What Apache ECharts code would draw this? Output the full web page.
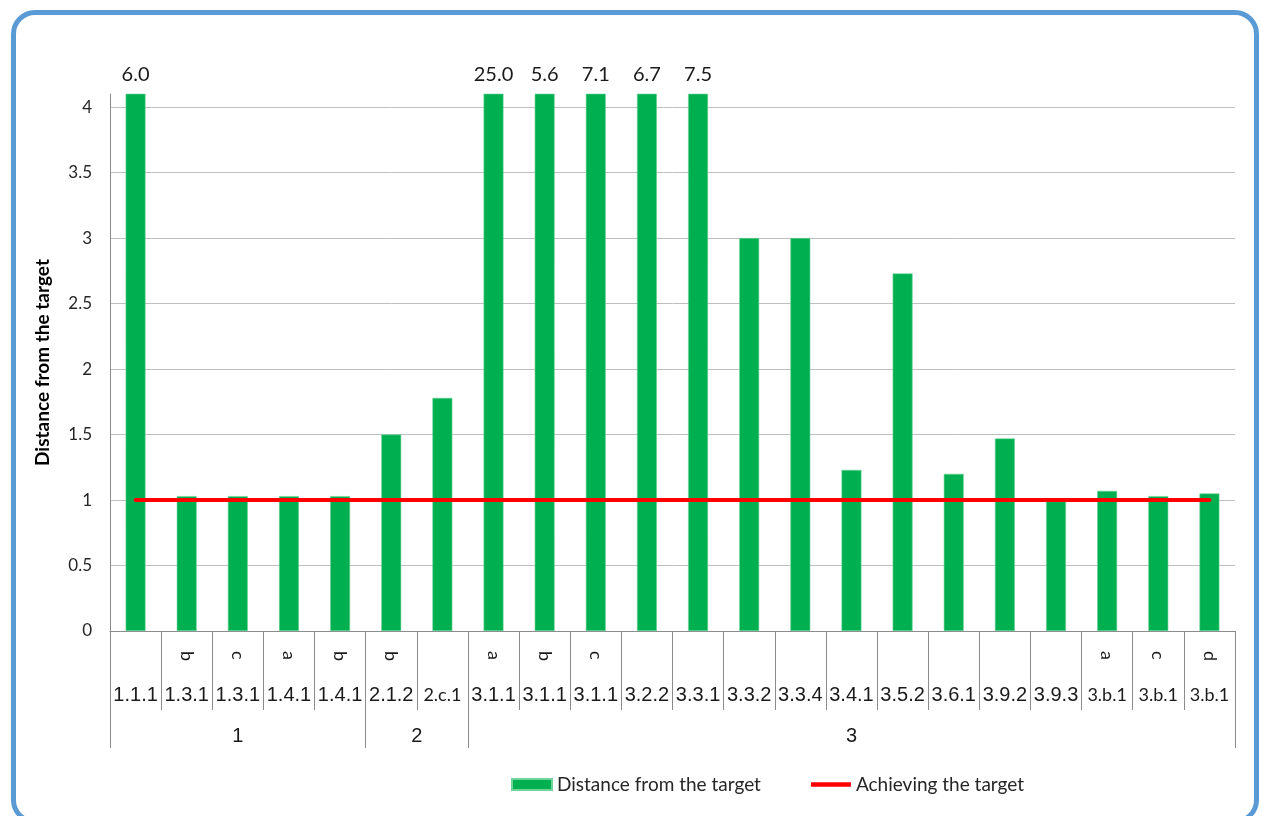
<!DOCTYPE html>
<html>
<head>
<meta charset="utf-8">
<title>Distance from the target</title>
<script src="https://cdn.jsdelivr.net/npm/echarts@6.0.0/dist/echarts.min.js"></script>
<style>
  html, body { margin: 0; padding: 0; width: 1262px; height: 816px; overflow: hidden; background: #fff; }
  #frame {
    position: absolute; left: 11px; top: 10px; width: 1248px; height: 814px;
    box-sizing: border-box; border: 5px solid #5B9BD5; border-radius: 24px;
  }
  #chart { position: absolute; left: 0; top: 0; width: 1262px; height: 816px; }
</style>
</head>
<body>
<div id="frame"></div>
<div id="chart"></div>
<script>
// Indicator codes (bottom row), sub-letters (upper row) and goal groups
const codes = ['1.1.1','1.3.1','1.3.1','1.4.1','1.4.1','2.1.2','2.c.1','3.1.1','3.1.1','3.1.1','3.2.2',
               '3.3.1','3.3.2','3.3.4','3.4.1','3.5.2','3.6.1','3.9.2','3.9.3','3.b.1','3.b.1','3.b.1'];
const letters = ['','b','c','a','b','b','','a','b','c','','','','','','','','','','a','c','d'];
const groupNames = ['1', '2', '3'];
const groupStarts = [0, 5, 7];
const groupEnds = [5, 7, 22];

// Distance from the target per indicator
const distance = [6.0, 1.03, 1.03, 1.03, 1.03, 1.5, 1.78, 25.0, 5.6, 7.1, 6.7,
                  7.5, 3.0, 3.0, 1.23, 2.73, 1.2, 1.47, 0.99, 1.07, 1.03, 1.05];
// Target level (1 = target achieved)
const target = [1, 1, 1, 1, 1, 1, 1, 1, 1, 1, 1, 1, 1, 1, 1, 1, 1, 1, 1, 1, 1, 1];

// Value axis
const yMin = 0;
const yMax = 4.1;
const yStep = 0.5;

const categoryKeys = codes.map((c, i) => c + letters[i]);
const groupBounds = [0].concat(groupEnds);
const groupCenters = groupStarts.map((s, i) => (s + groupEnds[i]) / 2);

const calibriLike = 'Lato, "Open Sans", sans-serif';
const arialLike = '"Liberation Sans", Arial, sans-serif';
const gridColor = '#BFBFBF';
const axisColor = '#8C8C8C';

const chart = echarts.init(document.getElementById('chart'), null, { renderer: 'canvas' });

chart.setOption({
  animation: false,
  grid: { left: 110, right: 27, top: 94, bottom: 185, containLabel: false },
  legend: {
    top: 770,
    left: 506,
    itemWidth: 40,
    itemHeight: 11,
    itemGap: 50,
    textStyle: { fontFamily: calibriLike, fontSize: 19, color: '#262626' },
    data: [
      { name: 'Distance from the target', icon: 'rect', itemStyle: { color: '#00B050' } },
      { name: 'Achieving the target', icon: 'path://M0,0 H40 V4.5 H0 Z', itemStyle: { color: '#FF0000' } }
    ]
  },
  xAxis: [
    {
      // main category axis: indicator codes and cell dividers
      type: 'category',
      data: categoryKeys,
      position: 'bottom',
      offset: 0,
      boundaryGap: true,
      axisLine: { show: true, lineStyle: { color: axisColor, width: 1 } },
      axisTick: { show: true, interval: 0, length: 79, lineStyle: { color: axisColor, width: 1 } },
      axisLabel: {
        interval: 0,
        hideOverlap: false,
        margin: 64,
        verticalAlign: 'middle',
        fontFamily: arialLike,
        fontSize: 20,
        color: '#1a1a1a',
        formatter: function (v, i) {
          const c = codes[i];
          return /[a-z]/.test(c) ? '{s|' + c + '}' : c;
        },
        rich: { s: { fontFamily: calibriLike, fontSize: 18, color: '#1a1a1a' } }
      },
      splitLine: { show: false }
    },
    {
      // sub-letter row, printed sideways
      type: 'category',
      data: categoryKeys,
      position: 'bottom',
      offset: 0,
      boundaryGap: true,
      axisLine: { show: false },
      axisTick: { show: false },
      axisLabel: {
        interval: 0,
        hideOverlap: false,
        rotate: -90,
        margin: 20,
        fontFamily: calibriLike,
        fontSize: 18,
        color: '#1a1a1a',
        formatter: function (v, i) { return letters[i]; }
      },
      splitLine: { show: false }
    },
    {
      // goal groups row
      type: 'value',
      min: 0,
      max: codes.length,
      position: 'bottom',
      offset: 0,
      axisLine: { show: false },
      axisTick: {
        show: true,
        customValues: groupBounds,
        length: 117,
        lineStyle: { color: axisColor, width: 1 }
      },
      axisLabel: {
        customValues: groupCenters,
        margin: 105,
        verticalAlign: 'middle',
        fontFamily: arialLike,
        fontSize: 20,
        color: '#1a1a1a',
        formatter: function (v) {
          const idx = groupCenters.indexOf(v);
          return idx >= 0 ? groupNames[idx] : '';
        }
      },
      splitLine: { show: false }
    }
  ],
  yAxis: {
    type: 'value',
    min: yMin,
    max: yMax,
    interval: yStep,
    name: 'Distance from the target',
    nameLocation: 'middle',
    nameGap: 58,
    nameTextStyle: { fontFamily: calibriLike, fontSize: 19, fontWeight: 'bold', color: '#000' },
    axisLine: { show: true, lineStyle: { color: axisColor, width: 1 } },
    axisTick: { show: false },
    axisLabel: {
      margin: 18,
      fontFamily: calibriLike,
      fontSize: 17,
      color: '#262626',
      showMaxLabel: false,
      formatter: function (v) {
        return Math.abs(v / yStep - Math.round(v / yStep)) < 1e-9 ? String(v) : '';
      }
    },
    splitLine: { show: true, showMaxLine: false, lineStyle: { color: gridColor, width: 1 } }
  },
  series: [
    {
      name: 'Distance from the target',
      type: 'bar',
      xAxisIndex: 0,
      barWidth: '39%',
      clip: true,
      itemStyle: { color: '#00B050', borderColor: '#6FD49A', borderWidth: 0.6 },
      label: {
        position: 'top',
        distance: 9,
        fontFamily: calibriLike,
        fontSize: 20,
        color: '#1a1a1a',
        formatter: function (p) { return p.value.toFixed(1); }
      },
      data: distance.map(v => ({ value: v, label: { show: v > yMax } })),
      z: 2
    },
    {
      name: 'Achieving the target',
      type: 'line',
      xAxisIndex: 0,
      data: target,
      symbol: 'none',
      showSymbol: false,
      lineStyle: { color: '#FF0000', width: 4, cap: 'round' },
      itemStyle: { color: '#FF0000' },
      z: 3
    }
  ]
});
</script>
</body>
</html>
